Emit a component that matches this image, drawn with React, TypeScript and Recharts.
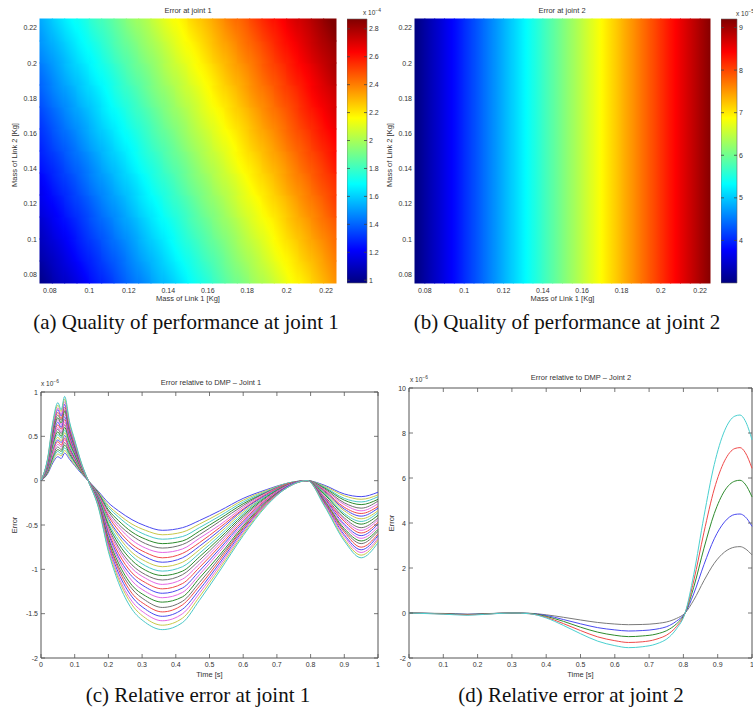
import React from 'react';
import { ComposedChart, LineChart, Line, Scatter, XAxis, YAxis, ReferenceArea } from 'recharts';

const INK = '#333';
const AXIS = '#555';
const SANS = '"Liberation Sans", Arial, Helvetica, sans-serif';
const SERIF = '"Liberation Serif", "Times New Roman", serif';

// ---- (a) error at joint 1, grid over both link masses ----
const massTicks = [0.08, 0.1, 0.12, 0.14, 0.16, 0.18, 0.2, 0.22];
const heat1XEdges = [0.075, 0.08125, 0.0875, 0.09375, 0.1, 0.10625, 0.1125, 0.11875, 0.125, 0.13125, 0.1375, 0.14375, 0.15, 0.15625, 0.1625, 0.16875, 0.175, 0.18125, 0.1875, 0.19375, 0.2, 0.20625, 0.2125, 0.21875, 0.225];
const heat1YEdges = [0.075, 0.0875, 0.1, 0.1125, 0.125, 0.1375, 0.15, 0.1625, 0.175, 0.1875, 0.2, 0.2125, 0.225];
// rows bottom -> top, values x 1e-4
const heat1Values = [
  [1.05, 1.11, 1.16, 1.22, 1.28, 1.33, 1.39, 1.45, 1.50, 1.56, 1.61, 1.67, 1.73, 1.78, 1.84, 1.90, 1.95, 2.01, 2.06, 2.12, 2.18, 2.23, 2.29, 2.35],
  [1.10, 1.15, 1.21, 1.27, 1.32, 1.38, 1.43, 1.49, 1.55, 1.60, 1.66, 1.72, 1.77, 1.83, 1.88, 1.94, 2.00, 2.05, 2.11, 2.17, 2.22, 2.28, 2.33, 2.39],
  [1.14, 1.20, 1.25, 1.31, 1.37, 1.42, 1.48, 1.53, 1.59, 1.65, 1.70, 1.76, 1.82, 1.87, 1.93, 1.98, 2.04, 2.10, 2.15, 2.21, 2.27, 2.32, 2.38, 2.43],
  [1.19, 1.24, 1.30, 1.35, 1.41, 1.47, 1.52, 1.58, 1.64, 1.69, 1.75, 1.80, 1.86, 1.92, 1.97, 2.03, 2.09, 2.14, 2.20, 2.25, 2.31, 2.37, 2.42, 2.48],
  [1.23, 1.29, 1.34, 1.40, 1.46, 1.51, 1.57, 1.62, 1.68, 1.74, 1.79, 1.85, 1.91, 1.96, 2.02, 2.07, 2.13, 2.19, 2.24, 2.30, 2.36, 2.41, 2.47, 2.52],
  [1.28, 1.33, 1.39, 1.44, 1.50, 1.56, 1.61, 1.67, 1.73, 1.78, 1.84, 1.89, 1.95, 2.01, 2.06, 2.12, 2.18, 2.23, 2.29, 2.34, 2.40, 2.46, 2.51, 2.57],
  [1.32, 1.38, 1.43, 1.49, 1.55, 1.60, 1.66, 1.71, 1.77, 1.83, 1.88, 1.94, 2.00, 2.05, 2.11, 2.16, 2.22, 2.28, 2.33, 2.39, 2.45, 2.50, 2.56, 2.61],
  [1.36, 1.42, 1.48, 1.53, 1.59, 1.65, 1.70, 1.76, 1.81, 1.87, 1.93, 1.98, 2.04, 2.10, 2.15, 2.21, 2.26, 2.32, 2.38, 2.43, 2.49, 2.55, 2.60, 2.66],
  [1.41, 1.47, 1.52, 1.58, 1.63, 1.69, 1.75, 1.80, 1.86, 1.92, 1.97, 2.03, 2.08, 2.14, 2.20, 2.25, 2.31, 2.37, 2.42, 2.48, 2.53, 2.59, 2.65, 2.70],
  [1.45, 1.51, 1.57, 1.62, 1.68, 1.73, 1.79, 1.85, 1.90, 1.96, 2.02, 2.07, 2.13, 2.18, 2.24, 2.30, 2.35, 2.41, 2.47, 2.52, 2.58, 2.63, 2.69, 2.75],
  [1.50, 1.55, 1.61, 1.67, 1.72, 1.78, 1.84, 1.89, 1.95, 2.00, 2.06, 2.12, 2.17, 2.23, 2.29, 2.34, 2.40, 2.45, 2.51, 2.57, 2.62, 2.68, 2.74, 2.79],
  [1.54, 1.60, 1.66, 1.71, 1.77, 1.82, 1.88, 1.94, 1.99, 2.05, 2.11, 2.16, 2.22, 2.27, 2.33, 2.39, 2.44, 2.50, 2.56, 2.61, 2.67, 2.72, 2.78, 2.84],
];
const bar1Ticks = [1, 1.2, 1.4, 1.6, 1.8, 2, 2.2, 2.4, 2.6, 2.8];
const bar1Range: [number, number] = [0.98, 2.87];

// ---- (b) error at joint 2, depends on link 1 only ----
const heat2XEdges = [0.075, 0.08, 0.085, 0.09, 0.095, 0.1, 0.105, 0.11, 0.115, 0.12, 0.125, 0.13, 0.135, 0.14, 0.145, 0.15, 0.155, 0.16, 0.165, 0.17, 0.175, 0.18, 0.185, 0.19, 0.195, 0.2, 0.205, 0.21, 0.215, 0.22, 0.225];
const heat2YEdges = [0.075, 0.225];
const heat2Values = [3.10, 3.31, 3.51, 3.72, 3.92, 4.13, 4.33, 4.54, 4.74, 4.95, 5.15, 5.36, 5.56, 5.77, 5.97, 6.18, 6.38, 6.59, 6.79, 7.00, 7.20, 7.41, 7.61, 7.82, 8.02, 8.23, 8.43, 8.64, 8.84, 9.05];
const bar2Ticks = [4, 5, 6, 7, 8, 9];
const bar2Range: [number, number] = [3.0, 9.2];

// ---- (c) relative error at joint 1 ----
const timeTicks = [0, 0.1, 0.2, 0.3, 0.4, 0.5, 0.6, 0.7, 0.8, 0.9, 1];
const joint1Ticks = [-2, -1.5, -1, -0.5, 0, 0.5, 1];
const joint1Time = [0, 0.02, 0.035, 0.05, 0.06, 0.07, 0.085, 0.1, 0.12, 0.14, 0.17, 0.2, 0.23, 0.27, 0.31, 0.36, 0.42, 0.47, 0.53, 0.6, 0.67, 0.73, 0.79, 0.84, 0.9, 0.95, 1];
// one row per time sample, 23 runs each (x 1e-6)
const joint1Rows = [
  [0, 0, 0, 0, 0, 0, 0, 0, 0, 0, 0, 0, 0, 0, 0, 0, 0, 0, 0, 0, 0, 0, 0],
  [0.08, 0.09, 0.10, 0.10, 0.11, 0.12, 0.13, 0.14, 0.15, 0.15, 0.16, 0.17, 0.18, 0.19, 0.19, 0.20, 0.21, 0.22, 0.23, 0.24, 0.24, 0.25, 0.26],
  [0.20, 0.22, 0.24, 0.26, 0.28, 0.30, 0.33, 0.35, 0.37, 0.39, 0.41, 0.43, 0.45, 0.47, 0.49, 0.51, 0.53, 0.56, 0.58, 0.60, 0.62, 0.64, 0.66],
  [0.27, 0.30, 0.33, 0.35, 0.38, 0.41, 0.44, 0.46, 0.49, 0.52, 0.55, 0.58, 0.60, 0.63, 0.66, 0.69, 0.71, 0.74, 0.77, 0.80, 0.82, 0.85, 0.88],
  [0.25, 0.28, 0.30, 0.33, 0.35, 0.38, 0.40, 0.43, 0.45, 0.48, 0.50, 0.53, 0.55, 0.58, 0.60, 0.63, 0.65, 0.68, 0.70, 0.73, 0.75, 0.78, 0.80],
  [0.31, 0.34, 0.37, 0.40, 0.43, 0.46, 0.48, 0.51, 0.54, 0.57, 0.60, 0.63, 0.66, 0.69, 0.72, 0.75, 0.78, 0.80, 0.83, 0.86, 0.89, 0.92, 0.95],
  [0.24, 0.26, 0.28, 0.30, 0.32, 0.34, 0.35, 0.37, 0.39, 0.41, 0.43, 0.45, 0.47, 0.49, 0.51, 0.53, 0.55, 0.56, 0.58, 0.60, 0.62, 0.64, 0.66],
  [0.17, 0.18, 0.20, 0.21, 0.22, 0.24, 0.25, 0.26, 0.28, 0.29, 0.30, 0.32, 0.33, 0.34, 0.35, 0.37, 0.38, 0.39, 0.41, 0.42, 0.43, 0.45, 0.46],
  [0.08, 0.09, 0.09, 0.10, 0.10, 0.11, 0.11, 0.12, 0.12, 0.13, 0.13, 0.14, 0.15, 0.15, 0.16, 0.16, 0.17, 0.17, 0.18, 0.18, 0.19, 0.19, 0.20],
  [0, 0, 0, 0, 0, 0, 0, 0, 0, 0, 0, 0, 0, 0, 0, 0, 0, 0, 0, 0, 0, 0, 0],
  [-0.12, -0.13, -0.14, -0.14, -0.15, -0.16, -0.17, -0.18, -0.19, -0.19, -0.20, -0.21, -0.22, -0.23, -0.23, -0.24, -0.25, -0.26, -0.27, -0.28, -0.28, -0.29, -0.30],
  [-0.25, -0.28, -0.30, -0.33, -0.35, -0.38, -0.40, -0.43, -0.45, -0.48, -0.50, -0.53, -0.55, -0.58, -0.60, -0.63, -0.65, -0.68, -0.70, -0.73, -0.75, -0.78, -0.80],
  [-0.34, -0.38, -0.41, -0.45, -0.49, -0.52, -0.56, -0.60, -0.63, -0.67, -0.71, -0.75, -0.78, -0.82, -0.86, -0.89, -0.93, -0.97, -1.00, -1.04, -1.08, -1.11, -1.15],
  [-0.44, -0.49, -0.53, -0.58, -0.62, -0.67, -0.72, -0.76, -0.81, -0.85, -0.90, -0.95, -0.99, -1.04, -1.08, -1.13, -1.18, -1.22, -1.27, -1.31, -1.36, -1.40, -1.45],
  [-0.51, -0.56, -0.61, -0.66, -0.71, -0.76, -0.81, -0.86, -0.91, -0.96, -1.01, -1.06, -1.10, -1.15, -1.20, -1.25, -1.30, -1.35, -1.40, -1.45, -1.50, -1.55, -1.60],
  [-0.56, -0.61, -0.66, -0.71, -0.76, -0.81, -0.87, -0.92, -0.97, -1.02, -1.07, -1.12, -1.17, -1.22, -1.27, -1.32, -1.37, -1.43, -1.48, -1.53, -1.58, -1.63, -1.68],
  [-0.53, -0.58, -0.63, -0.68, -0.72, -0.77, -0.82, -0.87, -0.92, -0.97, -1.02, -1.06, -1.11, -1.16, -1.21, -1.26, -1.31, -1.36, -1.40, -1.45, -1.50, -1.55, -1.60],
  [-0.45, -0.49, -0.53, -0.57, -0.61, -0.65, -0.70, -0.74, -0.78, -0.82, -0.86, -0.90, -0.94, -0.98, -1.02, -1.06, -1.10, -1.15, -1.19, -1.23, -1.27, -1.31, -1.35],
  [-0.34, -0.37, -0.40, -0.43, -0.46, -0.50, -0.53, -0.56, -0.59, -0.62, -0.65, -0.68, -0.71, -0.74, -0.77, -0.80, -0.84, -0.87, -0.90, -0.93, -0.96, -0.99, -1.02],
  [-0.20, -0.22, -0.24, -0.26, -0.28, -0.30, -0.32, -0.33, -0.35, -0.37, -0.39, -0.41, -0.43, -0.45, -0.47, -0.49, -0.51, -0.53, -0.54, -0.56, -0.58, -0.60, -0.62],
  [-0.10, -0.11, -0.12, -0.13, -0.13, -0.14, -0.15, -0.16, -0.17, -0.17, -0.18, -0.19, -0.20, -0.21, -0.22, -0.22, -0.23, -0.24, -0.25, -0.26, -0.26, -0.27, -0.28],
  [-0.03, -0.03, -0.03, -0.04, -0.04, -0.04, -0.04, -0.05, -0.05, -0.05, -0.05, -0.05, -0.06, -0.06, -0.06, -0.06, -0.07, -0.07, -0.07, -0.07, -0.08, -0.08, -0.08],
  [0, 0, 0, 0, 0, 0, 0, 0, 0, 0, 0, 0, 0, 0, 0, 0, 0, 0, 0, 0, 0, 0, 0],
  [-0.05, -0.06, -0.07, -0.08, -0.09, -0.10, -0.11, -0.12, -0.13, -0.14, -0.15, -0.17, -0.18, -0.19, -0.20, -0.21, -0.22, -0.23, -0.24, -0.25, -0.26, -0.27, -0.28],
  [-0.15, -0.17, -0.20, -0.22, -0.25, -0.27, -0.30, -0.32, -0.34, -0.37, -0.39, -0.42, -0.44, -0.46, -0.49, -0.51, -0.54, -0.56, -0.58, -0.61, -0.63, -0.66, -0.68],
  [-0.18, -0.21, -0.24, -0.27, -0.31, -0.34, -0.37, -0.40, -0.43, -0.46, -0.49, -0.53, -0.56, -0.59, -0.62, -0.65, -0.68, -0.71, -0.75, -0.78, -0.81, -0.84, -0.87],
  [-0.13, -0.16, -0.18, -0.21, -0.23, -0.26, -0.29, -0.31, -0.34, -0.36, -0.39, -0.42, -0.44, -0.47, -0.49, -0.52, -0.55, -0.57, -0.60, -0.62, -0.65, -0.67, -0.70],
];
const joint1Colors = [
  '#4a4af0', '#c8c84a', '#4ac8c8', '#2e8b2e', '#707070', '#e468e4', '#f04a4a',
  '#4a4af0', '#c8c84a', '#4ac8c8', '#2e8b2e', '#707070', '#e468e4', '#f04a4a',
  '#4a4af0', '#e468e4', '#2e8b2e', '#707070', '#f04a4a', '#4a4af0', '#e468e4',
  '#c8c84a', '#4ac8c8',
];

// ---- (d) relative error at joint 2 ----
const joint2Ticks = [-2, 0, 2, 4, 6, 8, 10];
const joint2Time = [0, 0.1, 0.17, 0.22, 0.3, 0.35, 0.4, 0.45, 0.5, 0.55, 0.6, 0.64, 0.68, 0.72, 0.76, 0.78, 0.805, 0.83, 0.86, 0.89, 0.92, 0.95, 0.965, 0.98, 1];
const joint2Gray = [0, -0.02, -0.05, -0.03, 0, -0.01, -0.08, -0.19, -0.31, -0.42, -0.49, -0.52, -0.51, -0.47, -0.36, -0.24, 0, 0.57, 1.44, 2.21, 2.71, 2.93, 2.95, 2.86, 2.58];
const joint2Blue = [0, -0.03, -0.06, -0.04, 0, -0.02, -0.11, -0.29, -0.48, -0.65, -0.75, -0.8, -0.78, -0.72, -0.55, -0.36, 0, 0.85, 2.15, 3.3, 4.05, 4.38, 4.4, 4.28, 3.85];
const joint2Green = [0, -0.03, -0.07, -0.04, 0, -0.02, -0.15, -0.37, -0.63, -0.85, -0.99, -1.05, -1.02, -0.94, -0.71, -0.48, 0, 1.14, 2.88, 4.42, 5.43, 5.86, 5.9, 5.73, 5.16];
const joint2Red = [0, -0.04, -0.08, -0.05, 0, -0.03, -0.19, -0.47, -0.78, -1.06, -1.23, -1.31, -1.28, -1.17, -0.89, -0.6, 0, 1.42, 3.59, 5.51, 6.76, 7.31, 7.35, 7.14, 6.43];
const joint2Cyan = [0, -0.05, -0.1, -0.06, 0, -0.03, -0.22, -0.55, -0.92, -1.25, -1.45, -1.54, -1.5, -1.38, -1.05, -0.7, 0, 1.7, 4.3, 6.6, 8.1, 8.75, 8.8, 8.55, 7.7];
const joint2Series = [
  { key: 'gray', values: joint2Gray, color: '#7a7a7a' },
  { key: 'blue', values: joint2Blue, color: '#4a4af0' },
  { key: 'green', values: joint2Green, color: '#2e8b2e' },
  { key: 'red', values: joint2Red, color: '#f04a4a' },
  { key: 'cyan', values: joint2Cyan, color: '#4ad0d0' },
];

// matlab "jet" colormap
function jet(v: number, lo: number, hi: number) {
  const t = Math.min(1, Math.max(0, (v - lo) / (hi - lo)));
  const ch = (c: number) => Math.round(255 * Math.min(1, Math.max(0, 1.5 - Math.abs(4 * t - c))));
  return `rgb(${ch(3)},${ch(2)},${ch(1)})`;
}

type Cell = { x1: number; x2: number; y1: number; y2: number; v: number; dx: number; dy: number };

// cells with the local change to their neighbours, so each one can be shaded smoothly (like shading interp)
function buildCells(grid: number[][], xs: number[], ys: number[]): Cell[] {
  return grid.flatMap((row, j) =>
    row.map((v, i) => {
      const dx = row.length < 2 ? 0 : i === 0 ? row[1] - v : i === row.length - 1 ? v - row[i - 1] : (row[i + 1] - row[i - 1]) / 2;
      const dy = grid.length < 2 ? 0 : j === 0 ? grid[1][i] - v : j === grid.length - 1 ? v - grid[j - 1][i] : (grid[j + 1][i] - grid[j - 1][i]) / 2;
      return { x1: xs[i], x2: xs[i + 1], y1: ys[j], y2: ys[j + 1], v, dx, dy };
    })
  );
}

const heat1Cells = buildCells(heat1Values, heat1XEdges, heat1YEdges);
const heat2Cells = buildCells([heat2Values], heat2XEdges, heat2YEdges);

const cellShape = (c: Cell, id: string, range: [number, number]) => (p: any) => {
  const { x, y, width: w, height: h } = p;
  const cx = x + w / 2;
  const cy = y + h / 2;
  const gx = c.dx / w;
  const gy = -c.dy / h;
  const g2 = gx * gx + gy * gy;
  const m = (Math.abs(c.dx) + Math.abs(c.dy)) / 2;
  const k = g2 > 0 ? m / g2 : 0;
  const offs = [-1, -0.5, 0, 0.5, 1];
  return (
    <g>
      <defs>
        <linearGradient id={id} gradientUnits="userSpaceOnUse" x1={cx - k * gx} y1={cy - k * gy} x2={cx + k * gx + (g2 > 0 ? 0 : 1)} y2={cy + k * gy}>
          {offs.map((o) => (
            <stop key={o} offset={(o + 1) / 2} stopColor={jet(c.v + o * m, range[0], range[1])} />
          ))}
        </linearGradient>
      </defs>
      <rect x={x - 0.5} y={y - 0.5} width={w + 1} height={h + 1} fill={`url(#${id})`} />
    </g>
  );
};

const joint1Data = joint1Time.map((t, j) => {
  const row: Record<string, number> = { t };
  joint1Rows[j].forEach((v, i) => { row[`s${i}`] = v; });
  return row;
});
const joint2Data = joint2Time.map((t, j) => {
  const row: Record<string, number> = { t };
  joint2Series.forEach((s) => { row[s.key] = s.values[j]; });
  return row;
});

const fmt = (v: number) => String(v);
const noShape = () => <g />;

// tick renderers
const plainXTick = (p: any) => (
  <text x={p.x} y={p.y} textAnchor="middle" dominantBaseline="central" fontSize={7} fill={INK} fontFamily={SANS}>
    {fmt(p.payload.value)}
  </text>
);
const plainYTick = (p: any) => (
  <text x={p.x} y={p.y} textAnchor="end" dominantBaseline="central" fontSize={7} fill={INK} fontFamily={SANS}>
    {fmt(p.payload.value)}
  </text>
);
const boxXTick = (gap: number, plotH: number) => (p: any) => {
  const ay = p.y - gap;
  return (
    <g>
      <line x1={p.x} x2={p.x} y1={ay} y2={ay - 4} stroke={AXIS} strokeWidth={0.8} />
      <line x1={p.x} x2={p.x} y1={ay - plotH} y2={ay - plotH + 4} stroke={AXIS} strokeWidth={0.8} />
      <text x={p.x} y={p.y} textAnchor="middle" dominantBaseline="central" fontSize={7} fill={INK} fontFamily={SANS}>
        {fmt(p.payload.value)}
      </text>
    </g>
  );
};
const boxYTick = (gap: number, plotW: number) => (p: any) => {
  const ax = p.x + gap;
  return (
    <g>
      <line x1={ax} x2={ax + 4} y1={p.y} y2={p.y} stroke={AXIS} strokeWidth={0.8} />
      <line x1={ax + plotW - 4} x2={ax + plotW} y1={p.y} y2={p.y} stroke={AXIS} strokeWidth={0.8} />
      <text x={p.x} y={p.y} textAnchor="end" dominantBaseline="central" fontSize={7} fill={INK} fontFamily={SANS}>
        {fmt(p.payload.value)}
      </text>
    </g>
  );
};
const barTick = (gap: number, barW: number) => (p: any) => {
  const ax = p.x - gap;
  return (
    <g>
      <line x1={ax - 3} x2={ax} y1={p.y} y2={p.y} stroke="#444" strokeWidth={0.8} />
      <line x1={ax - barW} x2={ax - barW + 3} y1={p.y} y2={p.y} stroke="#444" strokeWidth={0.8} />
      <text x={p.x} y={p.y} textAnchor="start" dominantBaseline="central" fontSize={7} fill={INK} fontFamily={SANS}>
        {fmt(p.payload.value)}
      </text>
    </g>
  );
};

const xTitle = (text: string, dy: number) => (p: any) => {
  const vb = p.viewBox;
  return (
    <text x={vb.x + vb.width / 2} y={vb.y + dy} textAnchor="middle" dominantBaseline="central" fontSize={7.5} fill={INK} fontFamily={SANS}>
      {text}
    </text>
  );
};
const yTitle = (text: string, dx: number, dy = 0) => (p: any) => {
  const vb = p.viewBox;
  const cx = vb.x + dx;
  const cy = vb.y + vb.height / 2 + dy;
  return (
    <text x={cx} y={cy} transform={`rotate(-90, ${cx}, ${cy})`} textAnchor="middle" dominantBaseline="central" fontSize={7.5} fill={INK} fontFamily={SANS}>
      {text}
    </text>
  );
};

function HeatPanel({ cells, range, right, tag }: { cells: Cell[]; range: [number, number]; right: number; tag: string }) {
  const centres = cells.map((c) => ({ x: (c.x1 + c.x2) / 2, y: (c.y1 + c.y2) / 2 }));
  return (
    <ComposedChart width={340} height={310} margin={{ top: 19, right, bottom: 0, left: 0 }}>
      <XAxis type="number" dataKey="x" domain={[0.075, 0.225]} ticks={massTicks} interval={0} height={27}
        axisLine={false} tickLine={false} tickSize={0} tickMargin={7} tick={plainXTick}
        label={xTitle('Mass of Link 1 [Kg]', 15)} />
      <YAxis type="number" dataKey="y" domain={[0.075, 0.225]} ticks={massTicks} interval={0} width={40}
        axisLine={false} tickLine={false} tickSize={0} tickMargin={3} tick={plainYTick}
        label={yTitle('Mass of Link 2 [Kg]', 14, 4)} />
      {cells.map((c, k) => (
        <ReferenceArea key={k} x1={c.x1} x2={c.x2} y1={c.y1} y2={c.y2} ifOverflow="visible"
          shape={cellShape(c, `${tag}-${k}`, range)} />
      ))}
      <Scatter data={centres} fill="none" shape={noShape} isAnimationActive={false} />
    </ComposedChart>
  );
}

function ColorBar({ width, barW, range, ticks }: { width: number; barW: number; range: [number, number]; ticks: number[] }) {
  return (
    <ComposedChart width={width} height={310} margin={{ top: 19, right: 0, bottom: 27, left: 0 }}>
      <XAxis type="number" dataKey="x" domain={[0, 1]} hide />
      <YAxis type="number" dataKey="y" orientation="right" domain={range} ticks={ticks} interval={0} width={width - barW}
        axisLine={false} tickLine={false} tickSize={0} tickMargin={2} tick={barTick(2, barW)} />
      <ReferenceArea x1={0} x2={1} y1={range[0]} y2={range[1]} fill="url(#jetBar)" fillOpacity={1}
        stroke="#666" strokeWidth={0.6} ifOverflow="visible" />
      <Scatter data={[{ x: 0.5, y: range[0] }, { x: 0.5, y: range[1] }]} fill="none" shape={noShape} isAnimationActive={false} />
    </ComposedChart>
  );
}

function Txt({ x, y, size, family = SANS, anchor = 'middle', children }: any) {
  return (
    <div style={{
      position: 'absolute', left: x, top: y, fontSize: size, fontFamily: family,
      color: family === SERIF ? '#111' : INK, whiteSpace: 'nowrap', lineHeight: 1,
      transform: anchor === 'middle' ? 'translate(-50%, -50%)' : 'translateY(-50%)',
    }}>
      {children}
    </div>
  );
}

const jetStops = [1, 0.875, 0.625, 0.375, 0.125, 0];

export default function App() {
  return (
    <div style={{ position: 'absolute', left: 0, top: 0, width: 753, height: 713, background: '#fff', overflow: 'hidden' }}>
      <svg width={0} height={0} style={{ position: 'absolute' }}>
        <defs>
          <linearGradient id="jetBar" x1="0" y1="0" x2="0" y2="1">
            {jetStops.map((t) => (
              <stop key={t} offset={1 - t} stopColor={jet(t, 0, 1)} />
            ))}
          </linearGradient>
        </defs>
      </svg>

      <div style={{ position: 'absolute', left: 0, top: 0 }}>
        <HeatPanel cells={heat1Cells} range={bar1Range} right={4} tag="h1" />
      </div>
      <div style={{ position: 'absolute', left: 347, top: 0 }}>
        <ColorBar width={40} barW={20} range={bar1Range} ticks={bar1Ticks} />
      </div>
      <div style={{ position: 'absolute', left: 375, top: 0 }}>
        <HeatPanel cells={heat2Cells} range={bar2Range} right={5} tag="h2" />
      </div>
      <div style={{ position: 'absolute', left: 721, top: 0 }}>
        <ColorBar width={32} barW={16} range={bar2Range} ticks={bar2Ticks} />
      </div>

      <div style={{ position: 'absolute', left: 0, top: 360 }}>
        <LineChart width={385} height={320} data={joint1Data} margin={{ top: 32, right: 7, bottom: 0, left: 0 }}>
          <XAxis type="number" dataKey="t" domain={[0, 1]} ticks={timeTicks} interval={0} height={22}
            axisLine={false} tickLine={false} tickSize={0} tickMargin={6} tick={boxXTick(6, 266)}
            label={xTitle('Time [s]', 16)} />
          <YAxis type="number" domain={[-2, 1]} ticks={joint1Ticks} interval={0} width={41}
            axisLine={false} tickLine={false} tickSize={0} tickMargin={3} tick={boxYTick(3, 337)}
            label={yTitle('Error', 14)} />
          <ReferenceArea x1={0} x2={1} y1={-2} y2={1} fill="none" stroke={AXIS} strokeWidth={1} ifOverflow="visible" />
          {joint1Colors.map((c, i) => (
            <Line key={i} type="monotone" dataKey={`s${i}`} stroke={c} strokeWidth={1} dot={false} isAnimationActive={false} />
          ))}
        </LineChart>
      </div>

      <div style={{ position: 'absolute', left: 370, top: 360 }}>
        <LineChart width={383} height={320} data={joint2Data} margin={{ top: 28, right: 1, bottom: 0, left: 0 }}>
          <XAxis type="number" dataKey="t" domain={[0, 1]} ticks={timeTicks} interval={0} height={22}
            axisLine={false} tickLine={false} tickSize={0} tickMargin={6} tick={boxXTick(6, 270)}
            label={xTitle('Time [s]', 16)} />
          <YAxis type="number" domain={[-2, 10]} ticks={joint2Ticks} interval={0} width={39}
            axisLine={false} tickLine={false} tickSize={0} tickMargin={3} tick={boxYTick(3, 343)}
            label={yTitle('Error', 21)} />
          <ReferenceArea x1={0} x2={1} y1={-2} y2={10} fill="none" stroke={AXIS} strokeWidth={1} ifOverflow="visible" />
          {joint2Series.map((s) => (
            <Line key={s.key} type="monotone" dataKey={s.key} stroke={s.color} strokeWidth={1} dot={false} isAnimationActive={false} />
          ))}
        </LineChart>
      </div>

      <Txt x={188} y={11} size={7.5}>Error at joint 1</Txt>
      <Txt x={562} y={11} size={7.5}>Error at joint 2</Txt>
      <Txt x={363} y={13} size={6.5} anchor="start">x 10<sup style={{ fontSize: '0.75em' }}>−4</sup></Txt>
      <Txt x={736} y={14} size={6.5} anchor="start">x 10<sup style={{ fontSize: '0.75em' }}>−5</sup></Txt>
      <Txt x={211} y={383} size={7.5}>Error relative to DMP – Joint 1</Txt>
      <Txt x={581} y={378} size={7.5}>Error relative to DMP – Joint 2</Txt>
      <Txt x={41} y={384} size={6.5} anchor="start">x 10<sup style={{ fontSize: '0.75em' }}>−6</sup></Txt>
      <Txt x={410} y={380} size={6.5} anchor="start">x 10<sup style={{ fontSize: '0.75em' }}>−6</sup></Txt>

      <Txt x={186} y={322} size={21} family={SERIF}>(a) Quality of performance at joint 1</Txt>
      <Txt x={567} y={322} size={21} family={SERIF}>(b) Quality of performance at joint 2</Txt>
      <Txt x={198} y={695} size={21} family={SERIF}>(c) Relative error at joint 1</Txt>
      <Txt x={571} y={695} size={21} family={SERIF}>(d) Relative error at joint 2</Txt>
    </div>
  );
}
